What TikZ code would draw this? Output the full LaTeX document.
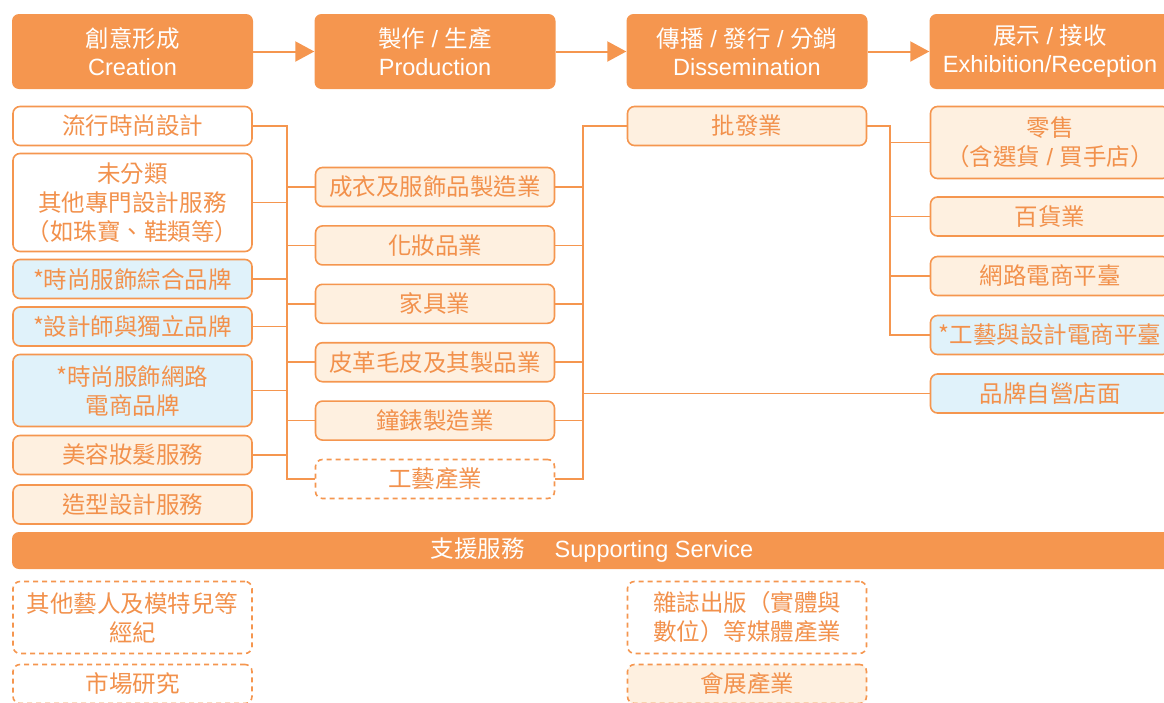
\documentclass[tikz,border=0pt]{standalone}
\usepackage{fontspec}
\setmainfont{Noto Sans CJK TC}
\newfontfamily\latinfont{Liberation Sans}
\usetikzlibrary{arrows.meta,calc,positioning}
\definecolor{chainorange}{HTML}{F5964F}
\definecolor{chaincream}{HTML}{FEF0E0}
\definecolor{chainblue}{HTML}{E0F2FA}
\definecolor{chaintext}{HTML}{F2914C}
\newcommand{\chainslash}{{\latinfont\ /\ }}
\tikzset{
  stagebox/.style={fill=chainorange,rounded corners=7pt,minimum width=241pt,
    minimum height=75pt,inner sep=0pt,align=center,text=white,
    font=\fontsize{23.5}{28}\selectfont},
  itembox/.style={draw=chainorange,rounded corners=7pt,line width=1.6pt,
    minimum width=239pt,minimum height=39pt,inner sep=0pt,align=center,
    text=chaintext,font=\fontsize{23.5}{29}\selectfont},
  creambox/.style={itembox,fill=chaincream},
  bluebox/.style={itembox,fill=chainblue},
  plainbox/.style={itembox,fill=white},
  dashbox/.style={dash pattern=on 5pt off 4pt},
  chainline/.style={draw=chainorange,line width=1.6pt},
  chainarrow/.style={draw=chainorange,line width=2pt,-{Triangle[length=19pt,width=20pt]}},
}

\begin{document}
\begin{tikzpicture}[x=1pt,y=-1pt]
        \path[use as bounding box] (0,0) rectangle (1164,702);
        % stages
        \node[stagebox] (st1) at (132.5,51.5) {創意形成\\{\latinfont Creation}};
        \node[stagebox] (st2) at (435,51.5) {製作\chainslash 生產\\{\latinfont Production}};
        \node[stagebox] (st3) at (747,51.5) {傳播\chainslash 發行\chainslash 分銷\\{\latinfont Dissemination}};
        \node[stagebox] (st4) at (1050,51.5) {展示\chainslash 接收\\{\latinfont Exhibition/Reception}};
        \foreach \i/\j in {1/2,2/3,3/4}
          {\draw[chainarrow] (st\i) -- (st\j);}
        % creation
        \node[plainbox] (cr1) at (132.5,126) {流行時尚設計};
        \node[plainbox,minimum height=98pt] (cr2) at (132.5,202.5) {未分類\\其他專門設計服務\\（如珠寶、鞋類等）};
        \node[bluebox] (cr3) at (132.5,279) {*時尚服飾綜合品牌};
        \node[bluebox] (cr4) at (132.5,326.5) {*設計師與獨立品牌};
        \node[bluebox,minimum height=72pt] (cr5) at (132.5,390.5) {*時尚服飾網路\\電商品牌};
        \node[creambox] (cr6) at (132.5,455) {美容妝髮服務};
        \node[creambox] (cr7) at (132.5,504.5) {造型設計服務};
        % production
        \foreach \i/\txt in {1/成衣及服飾品製造業,2/化妝品業,3/家具業,4/皮革毛皮及其製品業,5/鐘錶製造業}
          {\node[creambox] (pr\i) at (435,{187+58.4*(\i-1)}) {\txt};}
        \node[plainbox,dashbox] (pr6) at (435,479) {工藝產業};
        % dissemination and exhibition
        \node[creambox] (di1) at (747,126) {批發業};
        \node[creambox,minimum height=72pt] (ex1) at (1050,142.5) {零售\\（含選貨\chainslash 買手店）};
        \node[creambox] (ex2) at (1050,216.5) {百貨業};
        \node[creambox] (ex3) at (1050,276) {網路電商平臺};
        \node[bluebox] (ex4) at (1050,335) {*工藝與設計電商平臺};
        \node[bluebox] (ex5) at (1050,393.5) {品牌自營店面};
        % support
        \node[stagebox,minimum width=1160pt,minimum height=37pt] (sup) at (592,550.5)
          {支援服務\hspace{30pt}{\latinfont Supporting Service}};
        \node[plainbox,dashbox,minimum height=72pt] (sv1) at (132.5,617.5) {其他藝人及模特兒等\\經紀};
        \node[plainbox,dashbox] (sv2) at (132.5,684) {市場研究};
        \node[plainbox,dashbox,minimum height=72pt] (sv3) at (747,617.5) {雜誌出版（實體與\\數位）等媒體產業};
        \node[creambox,dashbox] (sv4) at (747,684) {會展產業};
        % buses
        \coordinate (lbus) at (287,0);
        \coordinate (rbus) at (583,0);
        \coordinate (dbus) at (890,0);
        \draw[chainline] (cr1.east) -| (pr6.west -| lbus) -- (pr6.west);
        \foreach \i in {2,...,6}
          {\draw[chainline] (cr\i.east) -- (cr\i.east -| lbus);}
        \foreach \i in {1,...,5}
          {\draw[chainline] (pr\i.west) -- (pr\i.west -| lbus);}
        \draw[chainline] (di1.west) -| (pr6.east -| rbus) -- (pr6.east);
        \foreach \i in {1,...,5}
          {\draw[chainline] (pr\i.east) -- (pr\i.east -| rbus);}
        \draw[chainline] (ex5.west) -- (ex5.west -| rbus);
        \draw[chainline] (di1.east) -| (ex4.west -| dbus) -- (ex4.west);
        \foreach \i in {1,...,3}
          {\draw[chainline] (ex\i.west) -- (ex\i.west -| dbus);}
      \end{tikzpicture}
\end{document}
